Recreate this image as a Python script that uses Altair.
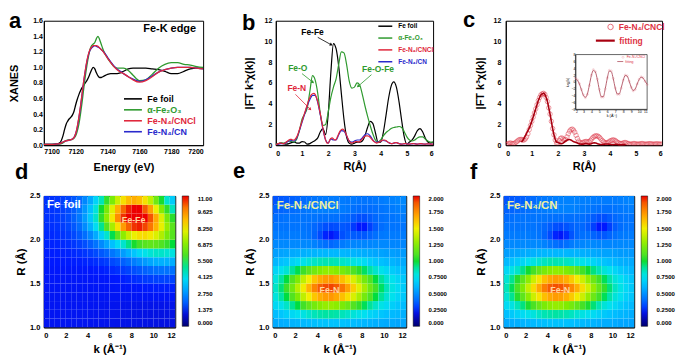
import altair as alt
import pandas as pd

FONT = "Liberation Sans"

# ---------------- panel a : XANES ----------------
a_series = ["Fe foil", "α-Fe₂O₃", "Fe-N₄/CNCl", "Fe-N₄/CN"]
a_colors = ["#000000", "#2f9a2f", "#e0283c", "#2a2acc"]
a_energy = [7100, 7105, 7108, 7110, 7112, 7113, 7114, 7115, 7116, 7117, 7118, 7119, 7120,
            7121, 7122, 7123, 7124, 7125, 7126, 7127, 7128, 7129, 7130, 7131, 7132, 7133,
            7134, 7135, 7136, 7137, 7138, 7140, 7142, 7144, 7146, 7148, 7150, 7153, 7156,
            7160, 7164, 7168, 7172, 7176, 7180, 7184, 7188, 7192, 7196, 7200]
a_fe_foil = [0.01, 0.01, 0.015, 0.03, 0.12, 0.2, 0.27, 0.31, 0.34, 0.36, 0.39, 0.44, 0.52,
             0.59, 0.65, 0.7, 0.74, 0.77, 0.8, 0.83, 0.87, 0.92, 0.97, 1.0, 0.98, 0.93,
             0.89, 0.87, 0.87, 0.88, 0.89, 0.91, 0.92, 0.92, 0.92, 0.93, 0.95, 0.98, 0.99,
             0.99, 0.99, 0.98, 0.97, 0.95, 0.92, 0.92, 0.95, 0.98, 0.99, 0.99]
a_fe2o3 = [0.01, 0.01, 0.01, 0.015, 0.03, 0.045, 0.06, 0.065, 0.07, 0.07, 0.075, 0.09, 0.12,
           0.18, 0.27, 0.4, 0.55, 0.72, 0.88, 1.02, 1.14, 1.23, 1.28, 1.3, 1.32, 1.37,
           1.4, 1.36, 1.3, 1.24, 1.19, 1.12, 1.06, 1.01, 0.99, 0.99, 0.99, 0.96, 0.9,
           0.83, 0.84, 0.91, 0.99, 1.04, 1.06, 1.06, 1.04, 1.03, 1.01, 1.0]
a_cncl = [0.01, 0.01, 0.015, 0.02, 0.04, 0.05, 0.055, 0.06, 0.065, 0.07, 0.08, 0.1, 0.15,
          0.24, 0.36, 0.5, 0.66, 0.82, 0.96, 1.08, 1.17, 1.23, 1.26, 1.28, 1.28, 1.28,
          1.27, 1.25, 1.23, 1.21, 1.18, 1.12, 1.06, 1.01, 0.97, 0.94, 0.92, 0.88, 0.84,
          0.81, 0.83, 0.88, 0.94, 0.97, 0.99, 1.0, 1.0, 1.0, 0.99, 0.98]
a_cn = [0.01, 0.01, 0.015, 0.02, 0.04, 0.05, 0.055, 0.06, 0.065, 0.07, 0.08, 0.1, 0.15,
        0.23, 0.35, 0.49, 0.65, 0.81, 0.95, 1.07, 1.16, 1.22, 1.25, 1.27, 1.28, 1.27,
        1.26, 1.25, 1.23, 1.21, 1.19, 1.13, 1.07, 1.02, 0.98, 0.95, 0.92, 0.88, 0.85,
        0.82, 0.84, 0.89, 0.94, 0.97, 0.99, 1.0, 1.0, 1.0, 0.99, 0.98]
a_xticks = [7100, 7120, 7140, 7160, 7180, 7200]
a_yticks = [0.0, 0.2, 0.4, 0.6, 0.8, 1.0, 1.2, 1.4, 1.6]
a_note = ["Fe-K edge"]
a_note_x = [7179]
a_note_y = [1.49]

# ---------------- panel b : FT-EXAFS ----------------
b_r = [0.0, 0.1, 0.2, 0.3, 0.4, 0.5, 0.6, 0.7, 0.8, 0.9, 1.0, 1.1, 1.2, 1.3, 1.4, 1.5, 1.6,
       1.7, 1.8, 1.9, 2.0, 2.1, 2.2, 2.3, 2.4, 2.5, 2.6, 2.7, 2.8, 2.9, 3.0, 3.1, 3.2, 3.3,
       3.4, 3.5, 3.6, 3.7, 3.8, 3.9, 4.0, 4.1, 4.2, 4.3, 4.4, 4.5, 4.6, 4.7, 4.8, 4.9, 5.0,
       5.1, 5.2, 5.3, 5.4, 5.5, 5.6, 5.7, 5.8, 5.9, 6.0]
b_fe_foil = [0.1, 0.15, 0.2, 0.15, 0.1, 0.15, 0.25, 0.3, 0.2, 0.2,
             0.35, 0.3, 0.1, 0.15, 0.3, 0.45, 0.7, 1.3, 1.6, 1.0,
             3.0, 7.0, 9.8, 9.3, 7.6, 5.0, 2.5, 0.8, 0.2, 0.1,
             0.2, 0.3, 0.3, 0.4, 0.9, 1.7, 2.3, 2.1, 1.2, 0.3,
             0.3, 1.2, 2.8, 4.5, 5.7, 6.1, 5.6, 4.2, 2.4, 0.8,
             0.1, 0.3, 0.5, 0.9, 1.4, 1.6, 1.3, 0.7, 0.3, 0.2, 0.3]
b_fe2o3 = [0.1, 0.15, 0.2, 0.2, 0.3, 0.4, 0.35, 0.3, 0.6, 1.4,
           2.5, 3.0, 3.6, 5.2, 6.7, 6.3, 5.0, 3.0, 1.9, 2.0,
           3.2, 4.6, 5.6, 6.4, 7.8, 9.0, 8.9, 7.8, 6.2, 5.5,
           5.6, 6.0, 5.8, 4.9, 3.8, 2.8, 1.9, 1.1, 0.5, 0.3,
           0.5, 0.9, 1.2, 1.4, 1.6, 1.7, 1.75, 1.8, 1.7, 1.3,
           0.8, 0.5, 0.4, 0.5, 0.7, 0.8, 0.8, 0.6, 0.4, 0.3, 0.3]
b_cn = [0.05, 0.1, 0.15, 0.15, 0.25, 0.4, 0.45, 0.4, 0.7, 1.4,
        2.2, 3.0, 3.8, 4.4, 4.8, 4.8, 4.1, 2.9, 1.5, 0.5,
        0.2, 0.6, 0.5, 0.5, 1.0, 1.4, 1.35, 0.9, 0.4, 0.3,
        0.4, 0.5, 0.5, 0.7, 1.0, 1.1, 0.9, 0.5, 0.3, 0.3,
        0.4, 0.45, 0.4, 0.25, 0.15, 0.2, 0.25, 0.15, 0.1, 0.12,
        0.15, 0.1, 0.12, 0.15, 0.1, 0.12, 0.12, 0.1, 0.12, 0.1, 0.1]
# Fe-N4/CNCl on a finer grid (used in b and as the circles of c)
c_r = [0.0, 0.05, 0.1, 0.15, 0.2, 0.25, 0.3, 0.35, 0.4, 0.45,
       0.5, 0.55, 0.6, 0.65, 0.7, 0.75, 0.8, 0.85, 0.9, 0.95,
       1.0, 1.05, 1.1, 1.15, 1.2, 1.25, 1.3, 1.35, 1.4, 1.45,
       1.5, 1.55, 1.6, 1.65, 1.7, 1.75, 1.8, 1.85, 1.9, 1.95,
       2.0, 2.05, 2.1, 2.15, 2.2, 2.25, 2.3, 2.35, 2.4, 2.45,
       2.5, 2.55, 2.6, 2.65, 2.7, 2.75, 2.8, 2.85, 2.9, 2.95,
       3.0, 3.05, 3.1, 3.15, 3.2, 3.25, 3.3, 3.35, 3.4, 3.45,
       3.5, 3.55, 3.6, 3.65, 3.7, 3.75, 3.8, 3.85, 3.9, 3.95,
       4.0, 4.05, 4.1, 4.15, 4.2, 4.25, 4.3, 4.35, 4.4, 4.45,
       4.5, 4.55, 4.6, 4.65, 4.7, 4.75, 4.8, 4.85, 4.9, 4.95,
       5.0, 5.05, 5.1, 5.15, 5.2, 5.25, 5.3, 5.35, 5.4, 5.45,
       5.5, 5.55, 5.6, 5.65, 5.7, 5.75, 5.8, 5.85, 5.9, 5.95, 6.0]
c_cncl = [0.05, 0.1, 0.15, 0.2, 0.2, 0.15, 0.15, 0.2, 0.3, 0.4,
          0.5, 0.55, 0.55, 0.5, 0.5, 0.6, 0.8, 1.1, 1.5, 1.9,
          2.3, 2.7, 3.1, 3.5, 3.9, 4.3, 4.6, 4.85, 4.95, 5.0,
          4.9, 4.6, 4.2, 3.6, 3.0, 2.3, 1.6, 1.0, 0.5, 0.2,
          0.2, 0.45, 0.65, 0.7, 0.6, 0.5, 0.55, 0.8, 1.1, 1.35,
          1.5, 1.55, 1.45, 1.25, 0.95, 0.65, 0.4, 0.25, 0.2, 0.25,
          0.3, 0.35, 0.35, 0.3, 0.35, 0.45, 0.6, 0.75, 0.85, 0.9,
          0.9, 0.85, 0.75, 0.6, 0.45, 0.35, 0.25, 0.2, 0.25, 0.3,
          0.4, 0.45, 0.5, 0.5, 0.45, 0.35, 0.25, 0.2, 0.15, 0.15,
          0.2, 0.25, 0.25, 0.2, 0.15, 0.1, 0.1, 0.12, 0.15, 0.15,
          0.12, 0.1, 0.1, 0.12, 0.15, 0.15, 0.12, 0.1, 0.1, 0.12,
          0.14, 0.14, 0.12, 0.1, 0.1, 0.12, 0.13, 0.12, 0.1, 0.1, 0.1]
b_xticks = [0, 1, 2, 3, 4, 5, 6]
b_yticks = [0, 2, 4, 6, 8, 10, 12]
b_ann_text = ["Fe-Fe", "Fe-O", "Fe-N", "Fe-O-Fe"]
b_ann_color = ["#000000", "#2f9a2f", "#e0283c", "#2f9a2f"]
b_ann_x = [1.4, 0.84, 0.8, 3.9]
b_ann_y = [10.9, 7.4, 5.5, 7.3]
b_arrow_x1 = [1.6, 1.0, 0.75, 3.65]
b_arrow_y1 = [10.4, 6.9, 4.9, 6.8]
b_arrow_x2 = [2.1, 1.4, 1.3, 3.15]
b_arrow_y2 = [9.7, 6.1, 3.5, 5.7]
b_arrow_angle = [119, 128, 135, 229]

# ---------------- panel c : fitting ----------------
c_fit_r = [0.6, 0.65, 0.7, 0.75, 0.8, 0.85, 0.9, 0.95, 1.0, 1.05,
           1.1, 1.15, 1.2, 1.25, 1.3, 1.35, 1.4, 1.45, 1.5, 1.55,
           1.6, 1.65, 1.7, 1.75, 1.8, 1.85, 1.9, 1.95, 2.0, 2.05,
           2.1, 2.15, 2.2, 2.25, 2.3, 2.35, 2.4, 2.45, 2.5, 2.55,
           2.6, 2.65, 2.7, 2.75, 2.8, 2.85, 2.9, 2.95, 3.0, 3.05,
           3.1, 3.15, 3.2, 3.25, 3.3, 3.35, 3.4, 3.45, 3.5, 3.55,
           3.6, 3.65, 3.7, 3.75, 3.8, 3.85, 3.9, 3.95, 4.0, 4.05,
           4.1, 4.15, 4.2, 4.25, 4.3, 4.35, 4.4, 4.45, 4.5, 4.55, 4.6]
c_fit = [0.3, 0.45, 0.65, 0.9, 1.15, 1.4, 1.65, 1.95, 2.3, 2.7,
         3.1, 3.5, 3.9, 4.3, 4.6, 4.85, 4.95, 5.0, 4.9, 4.6,
         4.2, 3.6, 3.0, 2.3, 1.6, 1.0, 0.55, 0.3, 0.25, 0.2,
         0.15, 0.15, 0.2, 0.3, 0.4, 0.48, 0.52, 0.55, 0.5, 0.42,
         0.35, 0.3, 0.25, 0.2, 0.15, 0.12, 0.1, 0.1, 0.12, 0.15,
         0.15, 0.12, 0.1, 0.12, 0.16, 0.2, 0.22, 0.2, 0.16, 0.12,
         0.08, 0.06, 0.06, 0.08, 0.1, 0.12, 0.12, 0.1, 0.08, 0.06,
         0.05, 0.06, 0.08, 0.08, 0.06, 0.05, 0.04, 0.04, 0.05, 0.05, 0.04]
c_series = ["Fe-N₄/CNCl", "fitting"]
inset_k = [2.0, 2.25, 2.5, 2.75, 3.0, 3.25, 3.5, 3.75, 4.0, 4.25, 4.5, 4.75, 5.0, 5.25,
           5.5, 5.75, 6.0, 6.25, 6.5, 6.75, 7.0, 7.25, 7.5, 7.75, 8.0, 8.25, 8.5, 8.75,
           9.0, 9.25, 9.5, 9.75, 10.0, 10.25, 10.5, 10.75, 11.0]
inset_chi = [1.2, 0.6, -0.5, -2.2, -3.8, -4.6, -3.6, -1.0, 2.0, 3.6, 3.0, 0.8, -2.2, -4.4,
             -4.4, -2.0, 1.2, 3.4, 3.2, 1.0, -1.8, -3.6, -3.6, -1.8, 0.6, 2.0, 1.8, 0.2,
             -1.6, -2.6, -2.2, -0.6, 0.8, 1.5, 1.2, 0.2, -0.8]
inset_fit = [1.0, 0.5, -0.6, -2.3, -3.9, -4.5, -3.5, -0.9, 1.9, 3.4, 2.9, 0.7, -2.3, -4.3,
             -4.3, -1.9, 1.1, 3.2, 3.0, 0.9, -1.8, -3.5, -3.5, -1.7, 0.5, 1.9, 1.7, 0.2,
             -1.5, -2.5, -2.1, -0.6, 0.7, 1.4, 1.1, 0.2, -0.7]
inset_k_domain = [2, 11]
inset_y_domain = [-8, 8]
inset_k_ticks = [2, 3, 4, 5, 6, 7, 8, 9, 10, 11]
inset_y_ticks = [-8, -6, -4, -2, 0, 2, 4, 6, 8]

# ---------------- panels d, e, f : wavelet transforms ----------------
hm_k_edges = [0, 0.5, 1, 1.5, 2, 2.5, 3, 3.5, 4, 4.5, 5, 5.5, 6, 6.5, 7, 7.5, 8, 8.5, 9,
              9.5, 10, 10.5, 11, 11.5, 12]
hm_r_edges = [1.0, 1.1, 1.2, 1.3, 1.4, 1.5, 1.6, 1.7, 1.8, 1.9, 2.0, 2.1, 2.2, 2.3, 2.4, 2.5]
hm_kticks = [0, 2, 4, 6, 8, 10, 12]
hm_rticks = [1.0, 1.5, 2.0, 2.5]
# rows from R = 1.0 (bottom) to R = 2.5 (top); 24 columns k = 0..12
d_grid = [
    [1.25, 1.25, 1.25, 1.25, 1.25, 1.25, 1.24, 1.24, 1.23, 1.22, 1.21, 1.2, 1.19, 1.18, 1.17, 1.16, 1.15, 1.14, 1.13, 1.12, 1.11, 1.1, 1.1, 1.1],
    [1.26, 1.26, 1.26, 1.26, 1.26, 1.26, 1.25, 1.25, 1.24, 1.23, 1.22, 1.21, 1.2, 1.19, 1.18, 1.17, 1.16, 1.15, 1.14, 1.13, 1.12, 1.12, 1.12, 1.12],
    [1.27, 1.27, 1.27, 1.27, 1.27, 1.27, 1.27, 1.27, 1.26, 1.25, 1.24, 1.23, 1.22, 1.21, 1.2, 1.2, 1.19, 1.19, 1.19, 1.19, 1.19, 1.19, 1.19, 1.19],
    [1.28, 1.28, 1.28, 1.28, 1.28, 1.28, 1.28, 1.28, 1.28, 1.28, 1.28, 1.28, 1.28, 1.28, 1.28, 1.28, 1.29, 1.29, 1.3, 1.3, 1.31, 1.31, 1.31, 1.31],
    [1.3, 1.3, 1.3, 1.3, 1.3, 1.3, 1.3, 1.3, 1.3, 1.3, 1.3, 1.31, 1.31, 1.32, 1.33, 1.34, 1.35, 1.37, 1.39, 1.4, 1.41, 1.42, 1.42, 1.42],
    [1.32, 1.32, 1.32, 1.32, 1.32, 1.32, 1.32, 1.32, 1.33, 1.33, 1.34, 1.35, 1.36, 1.38, 1.41, 1.45, 1.49, 1.54, 1.6, 1.64, 1.68, 1.69, 1.7, 1.69],
    [1.35, 1.35, 1.35, 1.35, 1.35, 1.35, 1.36, 1.36, 1.37, 1.39, 1.4, 1.43, 1.47, 1.53, 1.61, 1.7, 1.81, 1.93, 2.05, 2.17, 2.25, 2.28, 2.28, 2.27],
    [1.38, 1.38, 1.38, 1.39, 1.39, 1.4, 1.41, 1.43, 1.46, 1.5, 1.56, 1.63, 1.74, 1.87, 2.03, 2.23, 2.44, 2.68, 2.9, 3.09, 3.22, 3.26, 3.24, 3.21],
    [1.4, 1.4, 1.41, 1.42, 1.43, 1.46, 1.5, 1.56, 1.64, 1.76, 1.91, 2.1, 2.33, 2.6, 2.92, 3.26, 3.6, 3.95, 4.25, 4.48, 4.61, 4.6, 4.5, 4.38],
    [1.43, 1.43, 1.44, 1.47, 1.5, 1.57, 1.67, 1.81, 2.02, 2.29, 2.64, 3.05, 3.52, 4.03, 4.56, 5.07, 5.53, 5.92, 6.18, 6.31, 6.28, 6.07, 5.76, 5.47],
    [1.46, 1.47, 1.5, 1.54, 1.61, 1.74, 1.94, 2.23, 2.62, 3.15, 3.79, 4.55, 5.38, 6.21, 7.01, 7.69, 8.2, 8.5, 8.55, 8.36, 7.96, 7.39, 6.73, 6.15],
    [1.49, 1.51, 1.54, 1.61, 1.72, 1.92, 2.21, 2.66, 3.26, 4.05, 5.01, 6.12, 7.3, 8.45, 9.49, 10.28, 10.77, 10.89, 10.6, 9.99, 9.13, 8.12, 7.09, 6.2],
    [1.52, 1.54, 1.59, 1.67, 1.8, 2.04, 2.39, 2.92, 3.64, 4.58, 5.71, 7.0, 8.37, 9.67, 10.8, 11.0, 11.0, 11.0, 11.0, 10.44, 9.26, 7.97, 6.72, 5.65],
    [1.52, 1.54, 1.58, 1.66, 1.79, 2.01, 2.35, 2.85, 3.54, 4.43, 5.5, 6.72, 8.0, 9.2, 10.22, 10.9, 11.0, 11.0, 10.38, 9.39, 8.18, 6.92, 5.71, 4.69],
    [1.52, 1.53, 1.57, 1.63, 1.73, 1.92, 2.19, 2.6, 3.15, 3.87, 4.73, 5.72, 6.74, 7.7, 8.49, 9.01, 9.21, 9.01, 8.45, 7.59, 6.58, 5.54, 4.56, 3.73],
]
e_grid = [
    [0.57, 0.58, 0.59, 0.6, 0.61, 0.62, 0.63, 0.64, 0.65, 0.65, 0.65, 0.65, 0.65, 0.64, 0.63, 0.62, 0.61, 0.6, 0.59, 0.58, 0.57, 0.57, 0.56, 0.56],
    [0.63, 0.66, 0.69, 0.72, 0.75, 0.79, 0.83, 0.86, 0.88, 0.89, 0.89, 0.88, 0.86, 0.84, 0.81, 0.78, 0.75, 0.71, 0.69, 0.66, 0.64, 0.62, 0.61, 0.59],
    [0.72, 0.77, 0.84, 0.91, 0.99, 1.07, 1.15, 1.21, 1.26, 1.29, 1.29, 1.27, 1.23, 1.18, 1.11, 1.04, 0.97, 0.9, 0.84, 0.78, 0.73, 0.69, 0.66, 0.63],
    [0.8, 0.89, 0.99, 1.11, 1.24, 1.38, 1.5, 1.61, 1.68, 1.72, 1.73, 1.69, 1.63, 1.55, 1.44, 1.33, 1.21, 1.1, 0.99, 0.9, 0.82, 0.76, 0.71, 0.67],
    [0.84, 0.94, 1.06, 1.2, 1.36, 1.51, 1.66, 1.78, 1.88, 1.92, 1.93, 1.89, 1.82, 1.71, 1.59, 1.46, 1.32, 1.19, 1.07, 0.96, 0.86, 0.79, 0.73, 0.68],
    [0.8, 0.89, 0.99, 1.11, 1.24, 1.38, 1.5, 1.61, 1.68, 1.72, 1.73, 1.69, 1.63, 1.55, 1.44, 1.33, 1.21, 1.1, 0.99, 0.9, 0.82, 0.76, 0.71, 0.67],
    [0.71, 0.76, 0.82, 0.9, 0.98, 1.06, 1.14, 1.2, 1.25, 1.28, 1.28, 1.26, 1.22, 1.17, 1.1, 1.03, 0.96, 0.89, 0.83, 0.77, 0.72, 0.68, 0.65, 0.62],
    [0.61, 0.64, 0.66, 0.7, 0.73, 0.77, 0.81, 0.84, 0.86, 0.87, 0.87, 0.86, 0.84, 0.82, 0.79, 0.76, 0.73, 0.69, 0.66, 0.64, 0.62, 0.6, 0.58, 0.57],
    [0.54, 0.55, 0.56, 0.57, 0.58, 0.59, 0.6, 0.6, 0.61, 0.61, 0.61, 0.61, 0.61, 0.6, 0.6, 0.59, 0.58, 0.57, 0.56, 0.55, 0.54, 0.54, 0.53, 0.53],
    [0.48, 0.48, 0.48, 0.48, 0.48, 0.48, 0.48, 0.46, 0.43, 0.41, 0.39, 0.41, 0.44, 0.46, 0.47, 0.47, 0.47, 0.47, 0.48, 0.48, 0.48, 0.47, 0.47, 0.47],
    [0.44, 0.44, 0.44, 0.44, 0.44, 0.43, 0.42, 0.38, 0.32, 0.26, 0.24, 0.27, 0.33, 0.36, 0.36, 0.35, 0.35, 0.38, 0.41, 0.43, 0.44, 0.44, 0.44, 0.44],
    [0.42, 0.42, 0.42, 0.42, 0.42, 0.42, 0.41, 0.39, 0.36, 0.33, 0.32, 0.33, 0.35, 0.34, 0.29, 0.25, 0.25, 0.3, 0.36, 0.4, 0.42, 0.42, 0.42, 0.42],
    [0.4, 0.41, 0.42, 0.42, 0.42, 0.42, 0.42, 0.42, 0.41, 0.41, 0.41, 0.41, 0.4, 0.39, 0.36, 0.33, 0.33, 0.36, 0.39, 0.41, 0.42, 0.42, 0.43, 0.44],
    [0.37, 0.38, 0.39, 0.4, 0.41, 0.42, 0.43, 0.44, 0.45, 0.45, 0.45, 0.45, 0.44, 0.43, 0.41, 0.4, 0.4, 0.4, 0.41, 0.42, 0.43, 0.44, 0.45, 0.46],
    [0.34, 0.35, 0.36, 0.37, 0.38, 0.4, 0.41, 0.42, 0.43, 0.44, 0.44, 0.44, 0.44, 0.43, 0.43, 0.42, 0.42, 0.42, 0.43, 0.44, 0.45, 0.46, 0.47, 0.48],
]
f_grid = [
    [0.57, 0.58, 0.59, 0.6, 0.61, 0.62, 0.63, 0.64, 0.65, 0.65, 0.65, 0.65, 0.64, 0.63, 0.62, 0.61, 0.6, 0.59, 0.58, 0.58, 0.57, 0.56, 0.56, 0.55],
    [0.64, 0.67, 0.7, 0.73, 0.77, 0.8, 0.84, 0.87, 0.88, 0.89, 0.88, 0.87, 0.85, 0.82, 0.79, 0.76, 0.73, 0.7, 0.67, 0.65, 0.63, 0.61, 0.6, 0.58],
    [0.73, 0.79, 0.86, 0.93, 1.01, 1.09, 1.17, 1.23, 1.27, 1.29, 1.28, 1.25, 1.21, 1.15, 1.08, 1.01, 0.94, 0.87, 0.81, 0.76, 0.72, 0.68, 0.65, 0.62],
    [0.82, 0.91, 1.02, 1.14, 1.27, 1.41, 1.53, 1.63, 1.69, 1.72, 1.71, 1.67, 1.6, 1.51, 1.41, 1.29, 1.18, 1.07, 0.97, 0.88, 0.81, 0.75, 0.7, 0.66],
    [0.86, 0.97, 1.09, 1.24, 1.39, 1.55, 1.69, 1.8, 1.88, 1.91, 1.9, 1.85, 1.77, 1.67, 1.55, 1.42, 1.29, 1.16, 1.04, 0.94, 0.85, 0.78, 0.72, 0.67],
    [0.82, 0.91, 1.02, 1.14, 1.27, 1.41, 1.53, 1.63, 1.69, 1.72, 1.71, 1.67, 1.6, 1.51, 1.41, 1.29, 1.18, 1.07, 0.97, 0.88, 0.81, 0.75, 0.7, 0.66],
    [0.72, 0.78, 0.84, 0.92, 1.0, 1.08, 1.16, 1.22, 1.26, 1.28, 1.27, 1.24, 1.2, 1.14, 1.07, 1.0, 0.93, 0.87, 0.81, 0.76, 0.71, 0.67, 0.64, 0.61],
    [0.62, 0.65, 0.68, 0.71, 0.75, 0.79, 0.82, 0.85, 0.87, 0.87, 0.86, 0.85, 0.83, 0.8, 0.77, 0.74, 0.71, 0.68, 0.65, 0.63, 0.61, 0.59, 0.58, 0.57],
    [0.54, 0.55, 0.56, 0.57, 0.58, 0.59, 0.6, 0.61, 0.61, 0.61, 0.61, 0.61, 0.6, 0.6, 0.59, 0.58, 0.57, 0.56, 0.55, 0.55, 0.54, 0.53, 0.53, 0.52],
    [0.48, 0.48, 0.48, 0.48, 0.48, 0.48, 0.48, 0.46, 0.43, 0.41, 0.39, 0.41, 0.44, 0.46, 0.47, 0.48, 0.48, 0.47, 0.47, 0.47, 0.47, 0.48, 0.48, 0.48],
    [0.44, 0.44, 0.44, 0.44, 0.44, 0.43, 0.42, 0.38, 0.32, 0.26, 0.24, 0.27, 0.34, 0.39, 0.41, 0.41, 0.38, 0.35, 0.35, 0.38, 0.41, 0.43, 0.44, 0.44],
    [0.42, 0.42, 0.42, 0.42, 0.42, 0.42, 0.41, 0.39, 0.36, 0.33, 0.32, 0.34, 0.37, 0.39, 0.39, 0.36, 0.3, 0.25, 0.25, 0.3, 0.36, 0.4, 0.42, 0.42],
    [0.4, 0.41, 0.42, 0.42, 0.42, 0.42, 0.42, 0.42, 0.41, 0.41, 0.41, 0.41, 0.41, 0.41, 0.41, 0.39, 0.36, 0.33, 0.33, 0.36, 0.39, 0.41, 0.42, 0.42],
    [0.37, 0.38, 0.39, 0.4, 0.41, 0.42, 0.43, 0.44, 0.45, 0.46, 0.46, 0.46, 0.46, 0.45, 0.44, 0.43, 0.42, 0.41, 0.41, 0.41, 0.42, 0.43, 0.44, 0.45],
    [0.34, 0.35, 0.36, 0.37, 0.39, 0.4, 0.42, 0.43, 0.44, 0.45, 0.46, 0.46, 0.46, 0.46, 0.45, 0.45, 0.44, 0.44, 0.44, 0.44, 0.44, 0.45, 0.46, 0.47],
]
d_domain = [0, 11]
d_legend_values = [0, 1.375, 2.75, 4.125, 5.5, 6.875, 8.25, 9.625, 11]
ef_domain = [0, 2]
ef_legend_values = [0, 0.25, 0.5, 0.75, 1.0, 1.25, 1.5, 1.75, 2.0]
d_text = ["Fe foil", "Fe-Fe"]
d_text_k = [0.3, 8.2]
d_text_r = [2.4, 2.23]
e_text = ["Fe-N₄/CNCl", "Fe-N"]
e_text_k = [0.35, 5.1]
e_text_r = [2.38, 1.43]
f_text = ["Fe-N₄/CN", "Fe-N"]
f_text_k = [0.3, 5.2]
f_text_r = [2.38, 1.43]

JET = ["#000070", "#0018ff", "#0090ff", "#00e0f0", "#10dc30", "#80ec00",
       "#f0f000", "#ff9000", "#ec0000"]
C_RED = "#dd3344"
FIT_RED = "#a80010"


def label_color_expr(names, colors):
    expr = "'" + colors[-1] + "'"
    for n, c in reversed(list(zip(names[:-1], colors[:-1]))):
        expr = "datum.label === '" + n + "' ? '" + c + "' : " + expr
    return expr


def letter(t, dx, dy):
    return alt.TitleParams(t, anchor="start", frame="group", fontSize=22, fontWeight="bold",
                           font=FONT, dx=dx, dy=dy, offset=0, baseline="alphabetic")


# ---------------- build panel a ----------------
a_x = alt.X("x:Q", scale=alt.Scale(domain=[7100, 7200], nice=False, zero=False),
            axis=alt.Axis(values=a_xticks, format="d", title="Energy (eV)",
                          labelPadding=2.5, titlePadding=7))
a_y = alt.Y("y:Q", scale=alt.Scale(domain=[0, 1.6], nice=False),
            axis=alt.Axis(values=a_yticks, format=".1f", title="XANES",
                          labelPadding=1.5, titlePadding=13))
a_color = alt.Color("s:N", scale=alt.Scale(domain=a_series, range=a_colors),
                    legend=alt.Legend(title=None, orient="none", legendX=84, legendY=73,
                                      symbolType="M-2,0H2", symbolSize=81, symbolStrokeWidth=1.6,
                                      labelOffset=9, labelFontSize=9, labelFontWeight="bold",
                                      labelColor={"expr": label_color_expr(a_series, a_colors)},
                                      rowPadding=0, padding=0))
a_layers = []
for vals, name in [(a_fe_foil, a_series[0]), (a_fe2o3, a_series[1]),
                   (a_cn, a_series[3]), (a_cncl, a_series[2])]:
    df = pd.DataFrame({"x": a_energy, "y": vals, "s": name})
    a_layers.append(alt.Chart(df).mark_line(strokeWidth=1.3, interpolate="monotone", clip=True)
                    .encode(x=a_x, y=a_y, color=a_color))
a_note_layer = alt.Chart(pd.DataFrame({"x": a_note_x, "y": a_note_y, "t": a_note})).mark_text(
    font=FONT, fontSize=11, fontWeight="bold", color="black").encode(x=a_x, y=a_y, text="t:N")
panel_a = alt.layer(*a_layers, a_note_layer).properties(width=160, height=125,
                                                        title=letter("a", -35, 33))

# ---------------- build panel b ----------------
b_x = alt.X("x:Q", scale=alt.Scale(domain=[0, 6], nice=False),
            axis=alt.Axis(values=b_xticks, title="R(Å)", labelPadding=4, titlePadding=4))
b_y = alt.Y("y:Q", scale=alt.Scale(domain=[0, 12], nice=False),
            axis=alt.Axis(values=b_yticks, title="|FT k³χ(k)|", labelPadding=4, titlePadding=10))
b_color = alt.Color("s:N", scale=alt.Scale(domain=a_series, range=a_colors),
                    legend=alt.Legend(title=None, orient="none", legendX=105.5, legendY=1,
                                      symbolType="M-2,0H2", symbolSize=49, symbolStrokeWidth=1.5,
                                      labelOffset=8.5, labelFontSize=6.5, labelFontWeight="bold",
                                      labelColor={"expr": label_color_expr(a_series, a_colors)},
                                      rowPadding=3.9, padding=0))
b_layers = []
for xs, vals, name in [(b_r, b_fe_foil, a_series[0]), (b_r, b_fe2o3, a_series[1]),
                       (b_r, b_cn, a_series[3]), (c_r, c_cncl, a_series[2])]:
    df = pd.DataFrame({"x": xs, "y": vals, "s": name})
    b_layers.append(alt.Chart(df).mark_line(strokeWidth=1.2, interpolate="monotone", clip=True)
                    .encode(x=b_x, y=b_y, color=b_color))
for i in range(len(b_ann_text)):
    adf = pd.DataFrame({"x": [b_ann_x[i]], "y": [b_ann_y[i]], "t": [b_ann_text[i]]})
    rdf = pd.DataFrame({"x": [b_arrow_x1[i]], "y": [b_arrow_y1[i]],
                        "x2": [b_arrow_x2[i]], "y2": [b_arrow_y2[i]]})
    hdf = pd.DataFrame({"x": [b_arrow_x2[i]], "y": [b_arrow_y2[i]]})
    b_layers.append(alt.Chart(rdf).mark_rule(color=b_ann_color[i], strokeWidth=0.8)
                    .encode(x=b_x, y=b_y, x2="x2:Q", y2="y2:Q"))
    b_layers.append(alt.Chart(hdf).mark_point(shape="triangle", filled=True, size=12, opacity=1,
                                              angle=b_arrow_angle[i], color=b_ann_color[i])
                    .encode(x=b_x, y=b_y))
    b_layers.append(alt.Chart(adf).mark_text(font=FONT, fontSize=8.5, fontWeight="bold",
                                             color=b_ann_color[i]).encode(x=b_x, y=b_y, text="t:N"))
panel_b = alt.layer(*b_layers).properties(width=158, height=125, title=letter("b", -34, 35))

# ---------------- build panel c ----------------
c_x = alt.X("x:Q", scale=alt.Scale(domain=[0, 6], nice=False),
            axis=alt.Axis(values=b_xticks, title="R(Å)", labelPadding=4, titlePadding=4))
c_y = alt.Y("y:Q", scale=alt.Scale(domain=[0, 12], nice=False),
            axis=alt.Axis(values=b_yticks, title="|FT k³χ(k)|", labelPadding=5, titlePadding=8))
c_pts = alt.Chart(pd.DataFrame({"x": c_r, "y": c_cncl, "s": c_series[0]})).mark_point(
    shape="circle", filled=False, size=20, strokeWidth=0.7, color=C_RED, clip=True).encode(
    x=c_x, y=c_y,
    shape=alt.Shape("s:N", scale=alt.Scale(domain=[c_series[0]], range=["circle"]),
                    legend=alt.Legend(title=None, orient="none", legendX=101, legendY=2,
                                      symbolSize=30, symbolStrokeColor=C_RED,
                                      symbolFillColor="white", symbolStrokeWidth=1,
                                      labelFontSize=8.5, labelFontWeight="bold", labelColor=C_RED,
                                      labelOffset=4, padding=0)))
c_line = alt.Chart(pd.DataFrame({"x": c_fit_r, "y": c_fit, "s": c_series[1]})).mark_line(
    strokeWidth=1.6, interpolate="monotone").encode(
    x=c_x, y=c_y,
    color=alt.Color("s:N", scale=alt.Scale(domain=[c_series[1]], range=[FIT_RED]),
                    legend=alt.Legend(title=None, orient="none", legendX=94, legendY=14,
                                      symbolType="M-2,0H2", symbolSize=90, symbolStrokeWidth=2.2,
                                      labelFontSize=8.5, labelFontWeight="bold", labelColor=C_RED,
                                      labelOffset=8, padding=0)))
c_main = alt.layer(c_pts, c_line)

ci_x = alt.X("x:Q", scale=alt.Scale(domain=inset_k_domain, range=[70, 142], nice=False, zero=False),
             axis=alt.Axis(orient="bottom", offset=-36, values=inset_k_ticks, labelFontSize=3.5,
                           labelFontWeight="normal", labelPadding=0.5, title="k (Å⁻¹)",
                           titleFontSize=3.8, titleFontWeight="normal", titlePadding=0,
                           domainWidth=0.6))
ci_y = alt.Y("y:Q", scale=alt.Scale(domain=inset_y_domain, range=[89, 34], nice=False, zero=False),
             axis=alt.Axis(orient="left", offset=-70, values=inset_y_ticks, labelFontSize=3.5,
                           labelFontWeight="normal", labelPadding=0.5, title="k²χ(k)",
                           titleFontSize=3.8, titleFontWeight="normal", titlePadding=1,
                           domainWidth=0.6))
ci_frame = alt.Chart(pd.DataFrame({"x": [inset_k_domain[0]], "x2": [inset_k_domain[1]],
                                   "y": [inset_y_domain[0]], "y2": [inset_y_domain[1]]})).mark_rect(
    fillOpacity=0, stroke="black", strokeWidth=0.6).encode(x=ci_x, x2="x2:Q", y=ci_y, y2="y2:Q")
ci_pts = alt.Chart(pd.DataFrame({"x": inset_k, "y": inset_chi, "s": c_series[0]})).mark_point(
    shape="circle", filled=False, size=4, strokeWidth=0.4, color="#e87080").encode(
    x=ci_x, y=ci_y,
    shape=alt.Shape("s:N", scale=alt.Scale(domain=[c_series[0]], range=["circle"]),
                    legend=alt.Legend(title=None, orient="none", legendX=116, legendY=35,
                                      symbolSize=4, symbolStrokeColor="#e87080",
                                      symbolFillColor="white", symbolStrokeWidth=0.4,
                                      labelFontSize=3.5, labelFontWeight="normal",
                                      labelColor=C_RED, labelOffset=2, padding=0)))
ci_line = alt.Chart(pd.DataFrame({"x": inset_k, "y": inset_fit, "s": c_series[1]})).mark_line(
    strokeWidth=0.9, interpolate="monotone").encode(
    x=ci_x, y=ci_y,
    color=alt.Color("s:N", scale=alt.Scale(domain=[c_series[1]], range=["#b05060"]),
                    legend=alt.Legend(title=None, orient="none", legendX=113, legendY=39,
                                      symbolType="M-2,0H2", symbolSize=9, symbolStrokeWidth=0.8,
                                      labelFontSize=3.5, labelFontWeight="normal",
                                      labelColor=C_RED, labelOffset=3, padding=0)))
c_inset = alt.layer(ci_frame, ci_pts, ci_line)
panel_c = alt.layer(c_main, c_inset).resolve_scale(
    x="independent", y="independent", shape="independent", color="independent"
).properties(width=157, height=125, title=letter("c", -43, 32))


# ---------------- build heatmaps ----------------
def heatmap(grid, domain, legend_values, texts, tk, tr, title_color, width, ttl):
    rows = []
    for i, row in enumerate(grid):
        for j, v in enumerate(row):
            rows.append({"k0": hm_k_edges[j], "k1": hm_k_edges[j + 1],
                         "r0": hm_r_edges[i], "r1": hm_r_edges[i + 1], "v": v})
    df = pd.DataFrame(rows)
    hx = alt.X("k0:Q", scale=alt.Scale(domain=[0, 12], nice=False, zero=False),
               axis=alt.Axis(values=hm_kticks, title="k (Å⁻¹)", labelFontSize=7.5,
                             titleFontSize=11.5, labelPadding=4, titlePadding=5))
    hy = alt.Y("r0:Q", scale=alt.Scale(domain=[1.0, 2.5], nice=False, zero=False),
               axis=alt.Axis(values=hm_rticks, format=".1f", title="R (Å)", labelFontSize=7.5,
                             titleFontSize=11.5, labelPadding=4, titlePadding=3))
    rect = alt.Chart(df).mark_rect(strokeWidth=0).encode(
        x=hx, x2="k1:Q", y=hy, y2="r1:Q",
        color=alt.Color("v:Q", scale=alt.Scale(domain=domain, range=JET, nice=False),
                        legend=alt.Legend(title=None, orient="right", offset=7, gradientLength=131,
                                          gradientThickness=6.5, values=legend_values,
                                          format=".4r",
                                          labelExpr="datum.value === 0 ? '0.000' : datum.label",
                                          labelFontSize=6, labelFontWeight="bold",
                                          labelOverlap=False, labelOffset=9,
                                          gradientStrokeColor="black", gradientStrokeWidth=0.5,
                                          padding=0)))
    t1 = alt.Chart(pd.DataFrame({"k0": [tk[0]], "r0": [tr[0]], "t": [texts[0]]})).mark_text(
        font=FONT, fontSize=11.5, fontWeight="bold", align="left", color=title_color).encode(
        x=hx, y=hy, text="t:N")
    t2 = alt.Chart(pd.DataFrame({"k0": [tk[1]], "r0": [tr[1]], "t": [texts[1]]})).mark_text(
        font=FONT, fontSize=9, fontWeight="bold", align="center", color="#ffd49a").encode(
        x=hx, y=hy, text="t:N")
    return alt.layer(rect, t1, t2).properties(width=width, height=132, title=ttl)


panel_d = heatmap(d_grid, d_domain, d_legend_values, d_text, d_text_k, d_text_r, "white", 132,
                  letter("d", -29, 9))
panel_e = heatmap(e_grid, ef_domain, ef_legend_values, e_text, e_text_k, e_text_r, "#f0f0a0", 134,
                  letter("e", -40, 8))
panel_f = heatmap(f_grid, ef_domain, ef_legend_values, f_text, f_text_k, f_text_r, "#f0f0a0", 131,
                  letter("f", -34, 9))

top = alt.hconcat(panel_a, panel_b, panel_c, spacing=73, bounds="flush").resolve_scale(
    color="independent").resolve_legend(color="independent")
bottom = alt.hconcat(panel_d, panel_e, panel_f, spacing=98, bounds="flush").resolve_scale(
    color="independent")

chart = alt.vconcat(top, bottom, spacing=-14).properties(
    padding={"left": 0, "top": -1, "right": 0, "bottom": 0}
).configure(font=FONT).configure_axis(
    labelFont=FONT, titleFont=FONT, labelFontWeight="bold", titleFontWeight="bold",
    labelFontSize=7, titleFontSize=11, labelColor="black", titleColor="black",
    domainColor="black", domainWidth=1, ticks=False, grid=False
).configure_legend(labelFont=FONT).configure_view(stroke="black", strokeWidth=1)

chart.save("out.html", embed_options={"renderer": "svg", "actions": False})
